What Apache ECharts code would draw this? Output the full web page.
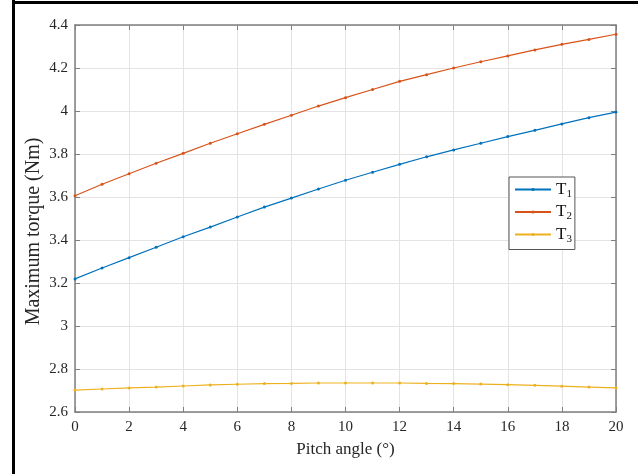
<!DOCTYPE html>
<html>
<head>
<meta charset="utf-8">
<script src="https://cdn.jsdelivr.net/npm/echarts@6/dist/echarts.min.js"></script>
<style>
  html, body { margin: 0; padding: 0; background: #fff; }
  #chart { width: 638px; height: 474px; }
</style>
</head>
<body>
<div id="chart"></div>
<script>
"use strict";

// 俯仰角 (°)
const pitchAngles = [0, 1, 2, 3, 4, 5, 6, 7, 8, 9, 10, 11, 12, 13, 14, 15, 16, 17, 18, 19, 20];
// 最大转矩 (Nm)
const torqueT1 = [3.219, 3.270, 3.318, 3.366, 3.415, 3.460, 3.507, 3.553, 3.595, 3.637, 3.678,
                  3.715, 3.752, 3.787, 3.819, 3.850, 3.881, 3.910, 3.940, 3.969, 3.995];
const torqueT2 = [3.606, 3.659, 3.708, 3.757, 3.803, 3.850, 3.894, 3.938, 3.980, 4.023, 4.062,
                  4.100, 4.138, 4.169, 4.200, 4.229, 4.256, 4.284, 4.310, 4.333, 4.357];
const torqueT3 = [2.702, 2.707, 2.712, 2.716, 2.721, 2.726, 2.729, 2.732, 2.733, 2.735, 2.735,
                  2.735, 2.735, 2.733, 2.732, 2.730, 2.727, 2.724, 2.720, 2.716, 2.712];
const seriesNames = ["T1", "T2", "T3"];
const seriesColors = ["#0072BD", "#D95319", "#EDB120"];

const FONT = "Liberation Serif";
const BOX = "#7f7f7f";

const chart = echarts.init(document.getElementById("chart"));

function lineSeries(name, values, color) {
  return {
    name, type: "line",
    data: pitchAngles.map((a, i) => [a, values[i]]),
    symbol: "circle", symbolSize: 3, showSymbol: true,
    lineStyle: { color, width: 1.2 },
    itemStyle: { color },
    silent: true
  };
}

const tickStyle = { show: true, inside: true, length: 5, lineStyle: { color: BOX, width: 1 } };
const gridLine = { show: true, lineStyle: { color: "#e3e3e3", width: 1 } };

chart.setOption({
  backgroundColor: "#fff",
  animation: false,
  grid: { left: 75, top: 25, width: 541, height: 387, show: false },
  xAxis: [
    {
      type: "value", min: 0, max: 20, interval: 2, position: "bottom",
      name: "Pitch angle (°)", nameLocation: "middle", nameGap: 29,
      nameTextStyle: { fontFamily: FONT, fontSize: 17, color: "#262626" },
      axisLine: { show: true, onZero: false, lineStyle: { color: BOX, width: 1.5 } },
      axisTick: tickStyle,
      axisLabel: { fontFamily: FONT, fontSize: 15, color: "#262626", margin: 8 },
      splitLine: gridLine
    },
    {
      type: "value", min: 0, max: 20, interval: 2, position: "top",
      axisLine: { show: true, onZero: false, lineStyle: { color: BOX, width: 1.5 } },
      axisTick: tickStyle, axisLabel: { show: false }, splitLine: { show: false }
    }
  ],
  yAxis: [
    {
      type: "value", min: 2.6, max: 4.4, interval: 0.2, position: "left",
      name: "Maximum torque (Nm)", nameLocation: "middle", nameGap: 31, nameMoveOverlap: false,
      nameTextStyle: { fontFamily: FONT, fontSize: 20, color: "#262626", padding: [0, 26, 0, 0] },
      axisLine: { show: true, onZero: false, lineStyle: { color: BOX, width: 1.5 } },
      axisTick: tickStyle,
      axisLabel: { fontFamily: FONT, fontSize: 15, color: "#262626", margin: 7,
                   formatter: v => String(parseFloat(v.toFixed(1))) },
      splitLine: gridLine
    },
    {
      type: "value", min: 2.6, max: 4.4, interval: 0.2, position: "right",
      axisLine: { show: true, onZero: false, lineStyle: { color: BOX, width: 1.5 } },
      axisTick: tickStyle, axisLabel: { show: false }, splitLine: { show: false }
    }
  ],
  legend: {
    orient: "vertical", left: 509, top: 177,
    data: seriesNames,
    itemWidth: 36, itemHeight: 4, itemGap: 4,
    padding: [4, 3, 5, 5],
    backgroundColor: "#fff", borderColor: "#555", borderWidth: 1, borderRadius: 0,
    formatter: name => "{t|T}{s|" + name.slice(1) + "}",
    textStyle: {
      color: "#111",
      rich: {
        t: { fontFamily: FONT, fontSize: 17, color: "#111" },
        s: { fontFamily: FONT, fontSize: 11, color: "#111", padding: [9, 0, 0, 0] }
      }
    }
  },
  series: [
    lineSeries(seriesNames[0], torqueT1, seriesColors[0]),
    lineSeries(seriesNames[1], torqueT2, seriesColors[1]),
    lineSeries(seriesNames[2], torqueT3, seriesColors[2])
  ],
  graphic: [
    { type: "line", shape: { x1: 13.5, y1: 0, x2: 13.5, y2: 474 }, style: { stroke: "#000", lineWidth: 3 } },
    { type: "line", shape: { x1: 12, y1: 2.5, x2: 638, y2: 2.5 }, style: { stroke: "#000", lineWidth: 3 } }
  ]
});
</script>
</body>
</html>
